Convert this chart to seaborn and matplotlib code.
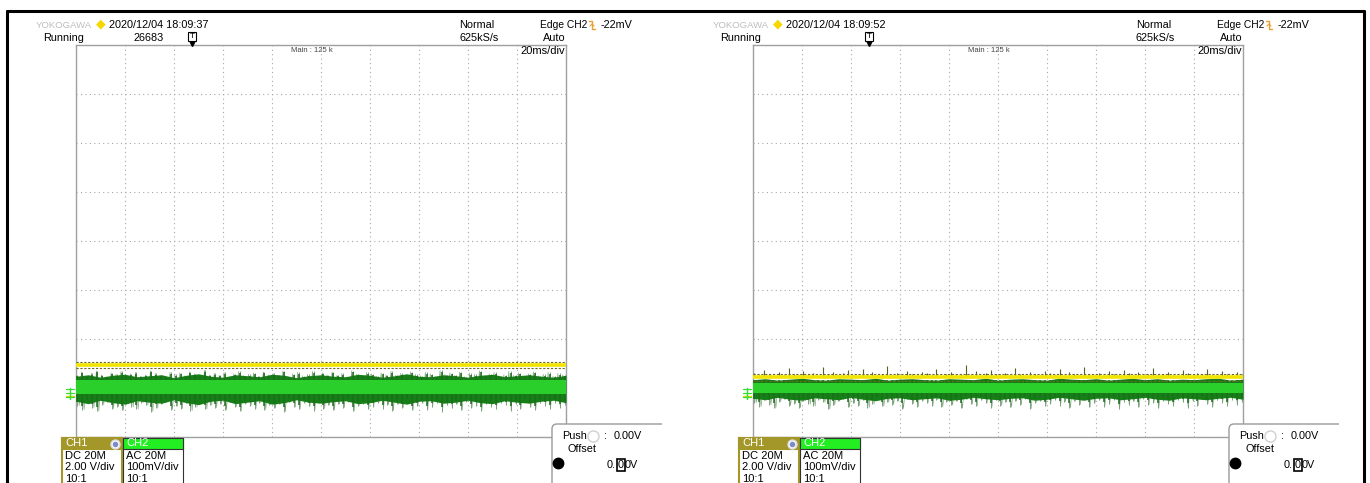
import numpy as np
import pandas as pd
import matplotlib
matplotlib.use('Agg')
import matplotlib.pyplot as plt
import seaborn as sns
from matplotlib.patches import Rectangle, PathPatch
from matplotlib.path import Path
from matplotlib.lines import Line2D

# ---------------- data (units: x = ms, y = divisions) ----------------
timestamps = ["2020/12/04 18:09:37", "2020/12/04 18:09:52"]
counts = ["26683", ""]
ch1_levels = [-2.53, -2.78]          # CH1 (yellow) trace level
ch2_centers = [-2.98, -3.00]         # CH2 (green) noise centre
ch2_core = [0.15, 0.11]              # bright core half width

L_env_hi = [0.22,0.25,0.20,0.24,0.26,0.21,0.23,0.25,0.19,0.24,0.27,0.22,0.20,0.25,0.23,0.21,0.26,0.24,0.19,0.23,
            0.25,0.22,0.21,0.26,0.24,0.20,0.23,0.27,0.22,0.21,0.25,0.23,0.20,0.24,0.26,0.21,0.23,0.25,0.22,0.20,0.24]
L_env_lo = [0.29,0.34,0.27,0.32,0.35,0.28,0.31,0.33,0.26,0.32,0.36,0.29,0.27,0.34,0.31,0.28,0.35,0.32,0.26,0.31,
            0.33,0.30,0.28,0.34,0.32,0.27,0.31,0.35,0.29,0.28,0.33,0.31,0.27,0.32,0.34,0.28,0.31,0.33,0.29,0.27,0.32]
R_env_hi = [0.17,0.19,0.16,0.18,0.20,0.17,0.16,0.19,0.18,0.17,0.20,0.16,0.18,0.19,0.17,0.16,0.19,0.18,0.17,0.20,
            0.16,0.18,0.19,0.17,0.16,0.20,0.18,0.17,0.19,0.16,0.18,0.20,0.17,0.19,0.16,0.18,0.17,0.19,0.20,0.16,0.18]
R_env_lo = [0.21,0.24,0.19,0.23,0.25,0.20,0.22,0.24,0.19,0.23,0.26,0.21,0.20,0.24,0.22,0.20,0.25,0.23,0.19,0.22,
            0.24,0.21,0.20,0.25,0.23,0.19,0.22,0.25,0.21,0.20,0.24,0.22,0.19,0.23,0.25,0.20,0.22,0.24,0.21,0.19,0.23]

L_spk_up = [0.24,0.31,0.22,0.28,0.33,0.25,0.21,0.29,0.26,0.32,0.23,0.27,0.30,0.22,0.25,0.33,0.28,0.24,0.21,0.30,
            0.26,0.29,0.23,0.31,0.27,0.22,0.34,0.25,0.28,0.24,0.30,0.21,0.27,0.32,0.23,0.26,0.29,0.22,0.31,0.25,
            0.28,0.24,0.33,0.21,0.27,0.30,0.23,0.26,0.32,0.22,0.29,0.25,0.31,0.24,0.28,0.21,0.33,0.26,0.23,0.30,
            0.27,0.22,0.29,0.25,0.32,0.24,0.28,0.21,0.31,0.26,0.23,0.30,0.27,0.22,0.34,0.25,0.29,0.24,0.31,0.21,
            0.28,0.26,0.33,0.23,0.27,0.30,0.22,0.25,0.32,0.24,0.29,0.21,0.27,0.31,0.23,0.26,0.30,0.22,0.28,0.25]
L_spk_dn = [0.38,0.46,0.33,0.42,0.49,0.36,0.31,0.44,0.40,0.47,0.34,0.41,0.45,0.32,0.37,0.50,0.43,0.35,0.30,0.46,
            0.39,0.44,0.33,0.48,0.41,0.32,0.45,0.37,0.42,0.35,0.47,0.31,0.40,0.49,0.34,0.38,0.44,0.32,0.46,0.36,
            0.43,0.35,0.50,0.31,0.41,0.45,0.33,0.39,0.48,0.32,0.44,0.37,0.47,0.35,0.42,0.30,0.49,0.38,0.34,0.45,
            0.40,0.32,0.44,0.36,0.48,0.35,0.42,0.31,0.47,0.39,0.33,0.46,0.41,0.32,0.50,0.37,0.43,0.35,0.47,0.30,
            0.42,0.38,0.49,0.34,0.40,0.45,0.32,0.37,0.48,0.35,0.44,0.31,0.41,0.46,0.33,0.38,0.45,0.32,0.42,0.36]
R_spk_up = [0.08,0.04,0.15,0.06,0.03,0.10,0.05,0.18,0.07,0.04,0.12,0.05,0.09,0.03,0.20,0.06,0.11,0.04,0.08,0.14,
            0.05,0.03,0.16,0.07,0.10,0.04,0.06,0.22,0.05,0.09,0.03,0.13,0.06,0.04,0.11,0.08,0.05,0.17,0.03,0.07,
            0.10,0.04,0.06,0.24,0.05,0.12,0.03,0.08,0.15,0.06,0.04,0.09,0.05,0.19,0.07,0.03,0.11,0.06,0.04,0.13,
            0.08,0.05,0.16,0.03,0.10,0.06,0.04,0.21,0.07,0.05,0.09,0.03,0.12,0.06,0.04,0.15,0.08,0.05,0.10,0.03,
            0.07,0.18,0.04,0.06,0.11,0.05,0.03,0.14,0.08,0.04,0.09,0.06,0.17,0.05,0.03,0.12,0.07,0.04,0.10,0.06]
R_spk_dn = [0.30,0.38,0.25,0.34,0.41,0.28,0.23,0.36,0.32,0.40,0.26,0.33,0.37,0.24,0.29,0.43,0.35,0.27,0.22,0.39,
            0.31,0.36,0.25,0.40,0.33,0.24,0.37,0.29,0.34,0.27,0.42,0.23,0.32,0.38,0.26,0.30,0.36,0.24,0.39,0.28,
            0.35,0.27,0.41,0.23,0.33,0.37,0.25,0.31,0.40,0.24,0.36,0.29,0.39,0.27,0.34,0.22,0.42,0.30,0.26,0.37,
            0.32,0.24,0.36,0.28,0.40,0.27,0.34,0.23,0.39,0.31,0.25,0.38,0.33,0.24,0.43,0.29,0.35,0.27,0.39,0.22,
            0.34,0.30,0.41,0.26,0.32,0.37,0.24,0.29,0.40,0.27,0.36,0.23,0.33,0.38,0.25,0.30,0.37,0.24,0.34,0.28]

env_hi = [L_env_hi, R_env_hi]
env_lo = [L_env_lo, R_env_lo]
spk_up = [L_spk_up, R_spk_up]
spk_dn = [L_spk_dn, R_spk_dn]

# ---------------- figure ----------------
W, H = 1370, 483
sns.set_style('white')
plt.rcParams['font.family'] = ['Liberation Sans', 'DejaVu Sans']
fig = plt.figure(figsize=(W / 100, H / 100), dpi=100)
FS = 7.8


def fx(x):
    return x / W


def fy(y):
    return 1 - y / H


def T(x, y, s, size=FS, color='black', ha='left', va='center', **kw):
    fig.text(fx(x), fy(y), s, fontsize=size, color=color, ha=ha, va=va, **kw)


def L(xs, ys, **kw):
    fig.add_artist(Line2D([fx(v) for v in xs], [fy(v) for v in ys], **kw))


def R(x0, y0, x1, y1, **kw):
    fig.add_artist(Rectangle((fx(x0), fy(y1)), (x1 - x0) / W, (y1 - y0) / H, **kw))


for p in range(2):
    dx = 677 * p
    ax = fig.add_axes([fx(76 + dx), fy(437), 490 / W, 392 / H])
    ax.set_xticks(np.arange(0, 201, 20))
    ax.set_yticks(np.arange(-4, 5, 1))
    ax.grid(True, color='#a8a8a8', ls=(0, (1, 3)), lw=0.8)
    ax.tick_params(length=0, labelbottom=False, labelleft=False)
    for s in ax.spines.values():
        s.set_color('#a0a0a0')
        s.set_linewidth(1)

    c = ch2_centers[p]
    y1 = ch1_levels[p]
    core = ch2_core[p]
    up = np.array(spk_up[p])
    dn = np.array(spk_dn[p])
    n = len(dn)
    t_env = np.linspace(0, 200, len(env_hi[p]))
    t_spk = np.linspace(0.5, 199.5, n)
    t_zig = np.linspace(0.3, 199.7, 2 * n)

    # outer noise: zig-zag trace through the spike extremes + spikes
    zig = np.empty(2 * n)
    if p == 0:
        zig[0::2] = c + up
        zig[1::2] = c - dn
        ax.vlines(t_spk, c - dn, c + up, color='#6a946a', lw=0.6, zorder=2)
    else:
        zig[0::2] = c + core
        zig[1::2] = c - dn
        ax.vlines(t_spk, y1, y1 + up, color='#4e6420', lw=0.8, zorder=2)
        ax.vlines(t_spk, c, c - dn, color='#6a946a', lw=0.6, zorder=2)
    sns.lineplot(x=t_zig, y=zig, ax=ax, color='#7aa07a', lw=0.45, zorder=2, sort=False)

    # dark band (ragged) and bright core
    hi = c + np.array(env_hi[p])
    lo = c - np.array(env_lo[p])
    ax.fill_between(t_env, lo, hi, color='#167e16', lw=0, zorder=3)
    if p == 0:
        ax.vlines(t_spk, c - dn * 0.82, c + up * 0.9, color='#1b6e1b', lw=1.1, zorder=3)
    else:
        ax.vlines(t_spk, c - dn * 0.75, c + core * 1.5, color='#1b6e1b', lw=1.1, zorder=3)
    ax.fill_between([0, 200], [c - core] * 2, [c + core] * 2, color='#2bcf2b', lw=0, zorder=4)

    # CH1 yellow trace
    sns.lineplot(x=[0, 200], y=[y1 + 0.07, y1 + 0.07], ax=ax, color='#6b6b20', lw=0.8, ls=(0, (2, 1.5)), zorder=6)
    sns.lineplot(x=[0, 200], y=[y1 - 0.07, y1 - 0.07], ax=ax, color='#6b6b20', lw=0.8, ls=(0, (2, 1.5)), zorder=6)
    sns.lineplot(x=[0, 200], y=[y1, y1], ax=ax, color='#f2e400', lw=2.6, zorder=7)
    ax.set_xlim(0, 200)
    ax.set_ylim(-4, 4)
    ax.set_xlabel('')
    ax.set_ylabel('')

    # ground markers
    L([66 + dx, 74 + dx], [396, 396], color='#e8d800', lw=1)
    L([70 + dx, 70 + dx], [388, 399], color='#33dd33', lw=1)
    for yy in (389, 393, 397):
        L([66 + dx, 74 + dx], [yy, yy], color='#33dd33', lw=0.9)

    # header texts
    T(36 + dx, 25, 'YOKOGAWA', color='#bdbdbd', size=6.8)
    T(101 + dx, 24, '\u25C6', color='#f5d800', size=9, ha='center', family='DejaVu Sans')
    T(109 + dx, 25, timestamps[p])
    T(43 + dx, 38, 'Running')
    if counts[p]:
        T(134 + dx, 38, counts[p])
    T(192 + dx, 36, 'T', size=6, ha='center',
      bbox=dict(boxstyle='square,pad=0.12', fc='white', ec='black', lw=0.8))
    fig.add_artist(Line2D([fx(192 + dx)], [fy(43)], marker='v', ms=4, color='black'))
    T(459 + dx, 25, 'Normal')
    T(459 + dx, 38, '625kS/s')
    T(540 + dx, 25, 'Edge CH2', size=7.4)
    L([589 + dx, 592 + dx, 592 + dx, 595 + dx], [21, 21, 29, 29], color='#e8a030', lw=1.0)
    L([590 + dx, 592 + dx, 594 + dx], [26, 24, 26], color='#e8a030', lw=0.8)
    T(601 + dx, 25, '-22mV')
    T(566 + dx, 38, 'Auto', ha='right')
    T(291 + dx, 50, 'Main : 125 k', size=5.5, color='#444444')
    T(565 + dx, 51, '20ms/div', ha='right', size=8.0)

    # channel boxes
    R(62 + dx, 438, 122 + dx, 495, fc='white', ec='#a3972a', lw=1.5)
    R(62 + dx, 438, 122 + dx, 449, fc='#a3972a', ec='#a3972a', lw=1.5)
    T(65 + dx, 443.5, 'CH1', color='white', size=8)
    fig.add_artist(Line2D([fx(115 + dx)], [fy(443.5)], marker='o', ms=6.5, mfc='white', mec='#dddddd'))
    fig.add_artist(Line2D([fx(115 + dx)], [fy(443.5)], marker='o', ms=3, mfc='#7d8bc8', mec='#7d8bc8'))
    R(123 + dx, 438, 183 + dx, 495, fc='white', ec='#333333', lw=0.8)
    R(123 + dx, 438, 183 + dx, 449, fc='#22ee22', ec='#333333', lw=0.8)
    T(126 + dx, 443.5, 'CH2', color='white', size=8)
    for i, (a, b) in enumerate([('DC 20M', 'AC 20M'), ('2.00 V/div', '100mV/div'), ('10:1', '10:1')]):
        T(65 + dx, 456 + 11.5 * i, a, size=8)
        T(126 + dx, 456 + 11.5 * i, b, size=8)

    # push / offset box
    R(552 + dx, 424, 662 + dx, 495, fc='white', ec='none')
    verts = [(fx(552 + dx), fy(495)), (fx(552 + dx), fy(429)), (fx(552 + dx), fy(424)),
             (fx(557 + dx), fy(424)), (fx(662 + dx), fy(424))]
    codes = [Path.MOVETO, Path.LINETO, Path.CURVE3, Path.CURVE3, Path.LINETO]
    fig.add_artist(PathPatch(Path(verts, codes), fill=False, ec='#9a9a9a', lw=1, transform=fig.transFigure))
    T(562 + dx, 436, 'Push', size=7.8)
    fig.add_artist(Line2D([fx(593 + dx)], [fy(436)], marker='o', ms=8, mfc='white', mec='#d0d0d0'))
    T(604 + dx, 436, ':', size=7.8)
    T(614 + dx, 436, '0.00V', size=7.8)
    T(568 + dx, 449, 'Offset', size=7.8)
    fig.add_artist(Line2D([fx(558 + dx)], [fy(463)], marker='o', ms=7.5, mfc='black', mec='black'))
    T(607 + dx, 465, '0.', size=7.8)
    T(621 + dx, 465, '0', size=7.8, ha='center',
      bbox=dict(boxstyle='square,pad=0.05', fc='none', ec='black', lw=1.2))
    T(625 + dx, 465, '0V', size=7.8)

# outer border
L([7, 1364], [11, 11], color='black', lw=2.2)
L([7, 7], [11, 490], color='black', lw=2.2)
L([1364, 1364], [11, 490], color='black', lw=2.2)

fig.savefig('out.png', dpi=100)
